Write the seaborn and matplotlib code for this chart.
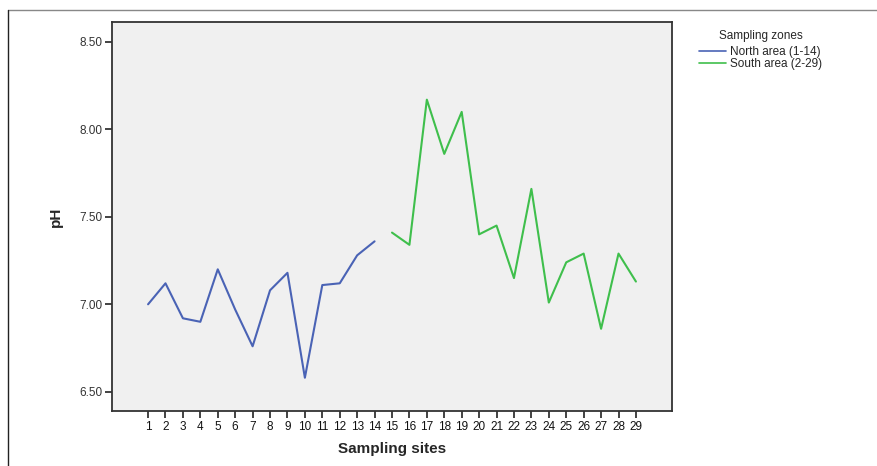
import matplotlib
matplotlib.use("Agg")
import matplotlib.pyplot as plt
from matplotlib.lines import Line2D
import seaborn as sns
import pandas as pd

sites = list(range(1, 30))
ph_north = [7.00, 7.12, 6.92, 6.90, 7.20, 6.97, 6.76, 7.08, 7.18, 6.58, 7.11, 7.12, 7.28, 7.36]
ph_south = [7.41, 7.34, 8.17, 7.86, 8.10, 7.40, 7.45, 7.15, 7.66, 7.01, 7.24, 7.29, 6.86, 7.29, 7.13]
zones = ["North area (1-14)", "South area (2-29)"]
y_ticks = [6.50, 7.00, 7.50, 8.00, 8.50]

df = pd.DataFrame({
    "site": sites,
    "pH": ph_north + ph_south,
    "zone": [zones[0]] * len(ph_north) + [zones[1]] * len(ph_south),
})

sns.set_style("ticks")
plt.rcParams["font.family"] = ["Liberation Sans", "DejaVu Sans"]

W, H = 878, 466
fig = plt.figure(figsize=(W / 100, H / 100), dpi=100)
ax = fig.add_axes([112 / W, (H - 411) / H, (672 - 112) / W, (411 - 22) / H])
ax.set_facecolor("#f0f0f0")

palette = {zones[0]: "#4a63b5", zones[1]: "#3fbf4c"}
sns.lineplot(data=df, x="site", y="pH", hue="zone", palette=palette, ax=ax,
             linewidth=1.5, legend=False)

ax.set_xlim(-1.07, 31.07)
ax.set_ylim(6.39, 8.614)
ax.set_xticks(sites)
ax.set_xticklabels([str(s) for s in sites], fontsize=8.5)
ax.set_yticks(y_ticks)
ax.set_yticklabels([f"{v:.2f}" for v in y_ticks], fontsize=8.5)
ax.tick_params(axis="both", direction="out", length=5, width=1.2, colors="#222222", pad=2)
ax.tick_params(axis="y", labelcolor="#333333")
ax.tick_params(axis="x", labelcolor="#111111")
for s in ax.spines.values():
    s.set_visible(True)
    s.set_linewidth(1.3)
    s.set_color("#333333")

ax.set_xlabel("Sampling sites", fontsize=11, fontweight="bold", labelpad=7)
ax.set_ylabel("pH", fontsize=11, fontweight="bold", labelpad=12)

handles = [Line2D([], [], color=palette[z], linewidth=1.2) for z in zones]
leg = fig.legend(handles, zones, title="Sampling zones", loc="upper left",
                 bbox_to_anchor=(694 / W, 1 - 25 / H), frameon=False,
                 fontsize=8.5, title_fontsize=8.5, handlelength=2.3,
                 handletextpad=0.35, labelspacing=0.02, borderaxespad=0)
leg._legend_box.align = "center"
leg._legend_box.sep = 3

# outer frame lines (top and left)
fig.add_artist(Line2D([8 / W, 1], [1 - 10 / H, 1 - 10 / H], transform=fig.transFigure,
                      color="#888888", linewidth=1.0))
fig.add_artist(Line2D([8 / W, 8 / W], [0, 1 - 10 / H], transform=fig.transFigure,
                      color="#222222", linewidth=1.0))

fig.savefig("out.png", dpi=100, facecolor="white")
